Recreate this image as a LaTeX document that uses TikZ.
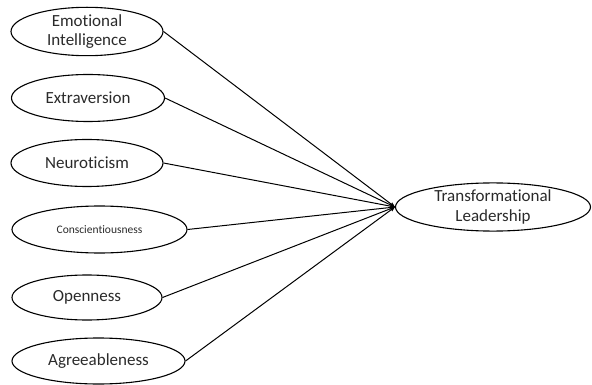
\documentclass[tikz,border=0pt]{standalone}
\usepackage{fontspec}
\setmainfont{Carlito}[Ligatures={NoCommon,NoRequired,NoContextual}]
\usetikzlibrary{shapes.geometric,arrows.meta}
\definecolor{txt}{HTML}{2A2A2A}
\begin{document}
\begin{tikzpicture}[x=1pt,y=-1pt,
  lat/.style={ellipse,draw,line width=1.1pt,inner sep=0pt,text=txt,font=\fontsize{17}{19.5}\selectfont,align=center},
  conn/.style={line width=1pt,-{Stealth[length=5pt,width=4pt]}}]
\useasboundingbox (0,0) rectangle (592,385);
\node[lat,minimum width=152pt,minimum height=47pt] (ei) at (87,31.5) {Emotional\\Intelligence};
\node[lat,minimum width=153pt,minimum height=47pt] (ex) at (88,98) {Extraversion};
\node[lat,minimum width=152pt,minimum height=47pt] (ne) at (87,163) {Neuroticism};
\node[lat,minimum width=175pt,minimum height=47pt,font=\fontsize{11.5}{13}\selectfont] (co) at (99.5,229.5) {Conscientiousness};
\node[lat,minimum width=150pt,minimum height=45pt] (op) at (87,297.5) {Openness};
\node[lat,minimum width=173pt,minimum height=46pt] (ag) at (98.5,361) {Agreeableness};
\node[lat,minimum width=195pt,minimum height=48pt] (tl) at (493,207) {Transformational\\Leadership};
\foreach \n in {ei,ex,ne,co,op,ag} \draw[conn] (\n.east) -- (tl.west);
\end{tikzpicture}
\end{document}
